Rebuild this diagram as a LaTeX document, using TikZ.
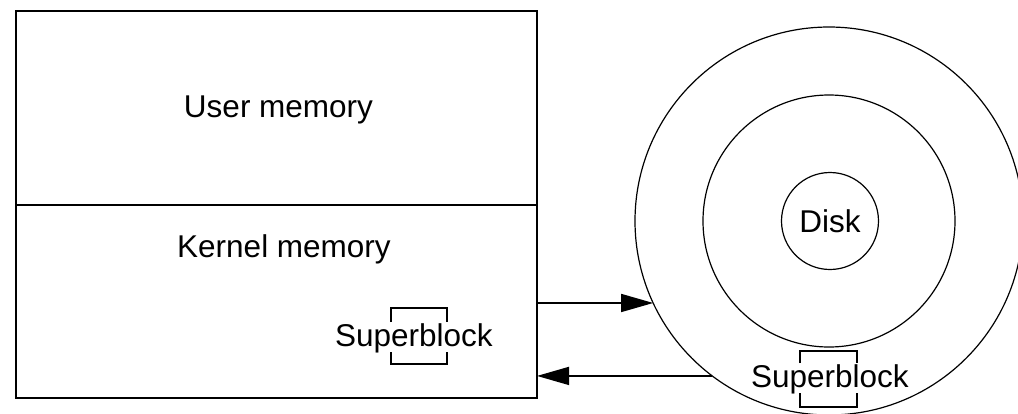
\documentclass[tikz,border=0pt]{standalone}
\usepackage{fontspec}
\setmainfont{Liberation Sans}
\usetikzlibrary{arrows.meta}
\begin{document}
\begin{tikzpicture}[x=1pt,y=-1pt,
  every node/.style={outer sep=0pt, inner sep=0pt},
  lbl/.style={font=\fontsize{31.5}{36}\selectfont},
  memband/.style={draw, line width=1.6pt, minimum width=521pt},
  ring/.style={draw, circle, line width=1.2pt},
  arr/.style={line width=1.5pt, -{Triangle[length=32pt, width=18pt]}},
  bracket/.style={line width=1.5pt}]
\useasboundingbox (0,0) rectangle (1018,413);

% main memory: user part above, kernel part below
\node[memband, minimum height=194pt, anchor=north west] (user) at (16,11) {};
\node[memband, minimum height=193pt, anchor=north west] (kernel) at (16,205) {};
\node[lbl, anchor=base] (usertxt) at (278.5,117) {User memory};
\node[lbl, anchor=base] (kerntxt) at (284,257) {Kernel memory};
\node[lbl, anchor=base west] (ksb) at (335,346) {Superblock};
\draw[bracket] (391,322) -- (391,308) -- (447,308) -- (447,322);
\draw[bracket] (391,352) -- (391,364) -- (447,364) -- (447,352);

% the disk
\node[ring, minimum size=388pt] (platter) at (829,221) {};
\node[ring, minimum size=252pt] (track) at (829,221) {};
\node[ring, minimum size=97pt, lbl] (disk) at (830,221) {Disk};
\node[lbl, anchor=base west] (dsb) at (751,387) {Superblock};
\draw[bracket] (800,363) -- (800,351) -- (857,351) -- (857,363);
\draw[bracket] (800,393) -- (800,407) -- (857,407) -- (857,393);

% transfers between memory and disk
\draw[arr] (kernel.east |- platter.205.9) -- (platter.205.9);
\draw[arr] (platter.233.9) -- (kernel.east |- platter.233.9);
\end{tikzpicture}
\end{document}
